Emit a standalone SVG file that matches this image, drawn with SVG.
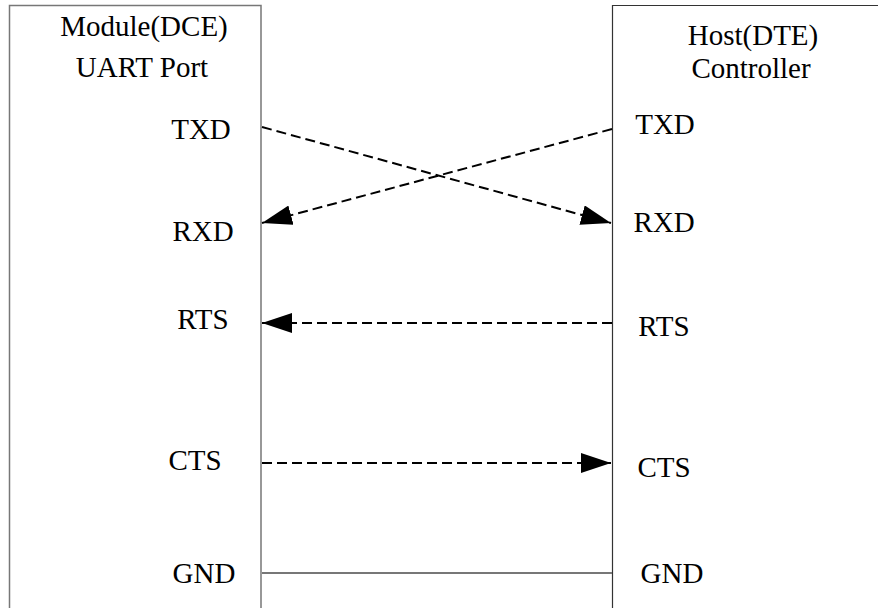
<svg xmlns="http://www.w3.org/2000/svg" width="878" height="608" viewBox="0 0 878 608">
<style>
text{font-family:"Liberation Serif","Times New Roman",serif;font-size:29px;fill:#000}
.sig{stroke:#000;stroke-width:2;stroke-dasharray:10,5;fill:none}
.gnd{stroke:#777;stroke-width:2;fill:none}
</style>
<defs>
<marker id="ah" markerUnits="userSpaceOnUse" markerWidth="30" markerHeight="20" refX="30" refY="10" orient="auto" viewBox="0 0 30 20">
<path d="M0,0 L30,10 L0,20 Z" fill="#000"/>
</marker>
</defs>
<rect width="878" height="608" fill="#fff"/>
<g id="module">
<path d="M9.5,608 V5.5 H261 V608" fill="none" stroke="#777" stroke-width="1.5"/>
<text x="144" y="36" text-anchor="middle">Module(DCE)</text>
<text x="142" y="77" text-anchor="middle">UART Port</text>
<text x="201" y="139" text-anchor="middle">TXD</text>
<text x="203" y="241" text-anchor="middle">RXD</text>
<text x="203" y="329" text-anchor="middle">RTS</text>
<text x="195" y="470" text-anchor="middle">CTS</text>
<text x="204" y="583" text-anchor="middle">GND</text>
</g>
<g id="host">
<path d="M612.5,608 V5.5 H880" fill="none" stroke="#333" stroke-width="1.2"/>
<text x="753" y="45" text-anchor="middle">Host(DTE)</text>
<text x="751" y="78" text-anchor="middle">Controller</text>
<text x="665" y="134" text-anchor="middle">TXD</text>
<text x="664" y="232" text-anchor="middle">RXD</text>
<text x="664" y="336" text-anchor="middle">RTS</text>
<text x="664" y="477" text-anchor="middle">CTS</text>
<text x="672" y="583" text-anchor="middle">GND</text>
</g>
<g id="connectors">
<line class="sig" x1="262" y1="127" x2="611" y2="223" marker-end="url(#ah)"/>
<line class="sig" x1="612" y1="129" x2="262" y2="223" marker-end="url(#ah)"/>
<line class="sig" x1="612" y1="323" x2="262" y2="323" marker-end="url(#ah)"/>
<line class="sig" x1="262" y1="463" x2="611" y2="463" marker-end="url(#ah)"/>
<line class="gnd" x1="262" y1="573" x2="612" y2="573"/>
</g>
</svg>
